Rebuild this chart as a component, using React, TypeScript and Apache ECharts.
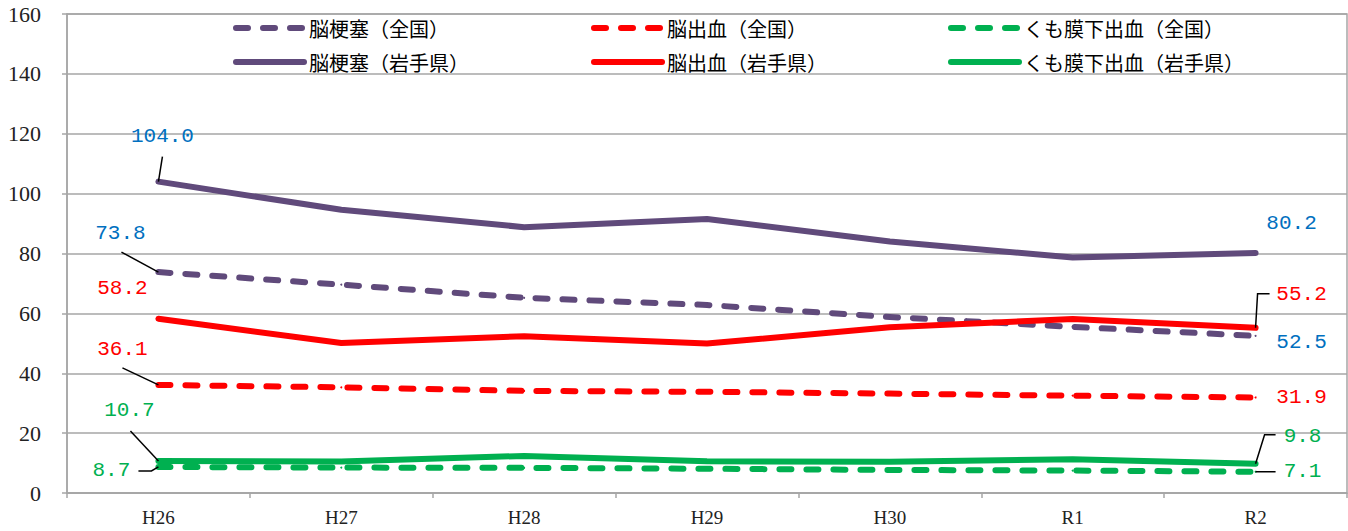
import React, { useEffect, useRef } from "react";
import * as echarts from "echarts";

// Fiscal years (Heisei 26 – Reiwa 2)
const categories = ["H26", "H27", "H28", "H29", "H30", "R1", "R2"];

// Age-adjusted mortality rates per 100,000
const infarctionNational = [73.8, 69.6, 65.2, 62.8, 58.8, 55.5, 52.5];
const hemorrhageNational = [36.1, 35.3, 34.1, 33.8, 33.2, 32.5, 31.9];
const subarachnoidNational = [8.7, 8.5, 8.4, 8.1, 7.7, 7.5, 7.1];
const infarctionIwate = [104.0, 94.6, 88.8, 91.5, 84.0, 78.7, 80.2];
const hemorrhageIwate = [58.2, 50.1, 52.4, 49.9, 55.4, 58.1, 55.2];
const subarachnoidIwate = [10.7, 10.5, 12.4, 10.6, 10.4, 11.3, 9.8];

const seriesNames = [
  "脳梗塞（全国）",
  "脳出血（全国）",
  "くも膜下出血（全国）",
  "脳梗塞（岩手県）",
  "脳出血（岩手県）",
  "くも膜下出血（岩手県）",
];

const PURPLE = "#604A7B";
const RED = "#FF0000";
const GREEN = "#00B050";
const BLUE_TEXT = "#0070C0";
const GRID_GRAY = "#A6A6A6";

type Offset = { dx: number; dy: number; guide?: number[][] };

// Label placement relative to the data point: [first, last].
// guide: leader polyline, from the label end to the point.
const labelOffsets: Offset[][] = [
  [
    { dx: -38, dy: -39, guide: [[-37, -20], [0, 0]] },
    { dx: 46, dy: 7 },
  ],
  [
    { dx: -36, dy: -35, guide: [[-36, -17], [0, 0]] },
    { dx: 46, dy: 0 },
  ],
  [
    { dx: -47, dy: 4, guide: [[-20, 4], [-7, 4], [0, 0]] },
    { dx: 47, dy: 0, guide: [[20, 0], [0, 0]] },
  ],
  [
    { dx: 4, dy: -45, guide: [[4, -25], [0, 0]] },
    { dx: 36, dy: -29 },
  ],
  [
    { dx: -36, dy: -30 },
    { dx: 46, dy: -33, guide: [[14, -34], [2, -34], [0, 0]] },
  ],
  [
    { dx: -29, dy: -50, guide: [[-28, -30], [0, 0]] },
    { dx: 47, dy: -27, guide: [[20, -29], [9, -29], [0, 0]] },
  ],
];

const legendLeft = [233, 591, 948];
const legendTop = [18, 52];

const allValues = [
  infarctionNational,
  hemorrhageNational,
  subarachnoidNational,
  infarctionIwate,
  hemorrhageIwate,
  subarachnoidIwate,
];

function buildSeries(
  idx: number,
  values: number[],
  color: string,
  textColor: string,
  dashed: boolean
) {
  const offsets = labelOffsets[idx];
  const data = values.map((v, i) =>
    i === 0 || i === values.length - 1 ? { value: v, label: { show: true } } : v
  );
  return {
    name: seriesNames[idx],
    type: "line",
    data,
    symbol: "circle",
    symbolSize: 2,
    showSymbol: true,
    itemStyle: { color },
    lineStyle: {
      color,
      width: 6,
      type: dashed ? [12, 15] : "solid",
      cap: "round",
      join: "round",
    },
    label: {
      show: false,
      formatter: (p: any) => Number(p.value).toFixed(1),
      color: textColor,
      fontFamily: "Liberation Mono",
      fontSize: 21,
    },
    labelLayout: (params: any) => {
      const last = params.dataIndex === values.length - 1;
      const o = offsets[last ? 1 : 0];
      const px = params.rect.x + params.rect.width / 2;
      const py = params.rect.y + params.rect.height / 2;
      return {
        x: px + o.dx,
        y: py + o.dy,
        align: "center",
        verticalAlign: "middle",
      };
    },
    emphasis: { disabled: true },
    z: dashed ? 2 : 3,
  };
}

export default function App() {
  const ref = useRef<HTMLDivElement>(null);

  useEffect(() => {
    if (!ref.current) return;
    const chart = echarts.init(ref.current, undefined, { renderer: "svg" });

    const option: any = {
      animation: false,
      backgroundColor: "#fff",
      grid: {
        left: 67,
        right: 1,
        top: 14,
        bottom: 38,
        show: true,
        borderColor: GRID_GRAY,
        borderWidth: 1.5,
      },
      legend: seriesNames.map((name, i) => ({
        data: [name],
        left: legendLeft[i % 3],
        top: legendTop[Math.floor(i / 3)],
        padding: 0,
        itemWidth: 68,
        itemHeight: 6,
        selectedMode: false,
        itemStyle: { opacity: 0 },
        lineStyle: { width: 6, cap: "round" },
        textStyle: {
          fontFamily: "Noto Sans CJK JP",
          fontSize: 20,
          color: "#000",
        },
      })),
      xAxis: {
        type: "category",
        data: categories,
        boundaryGap: true,
        axisLine: { lineStyle: { color: GRID_GRAY, width: 1.5 } },
        axisTick: {
          show: true,
          alignWithLabel: false,
          length: 5,
          lineStyle: { color: GRID_GRAY, width: 1.5 },
        },
        axisLabel: {
          margin: 15,
          color: "#222",
          fontFamily: "Liberation Serif",
          fontSize: 19,
        },
      },
      yAxis: {
        type: "value",
        min: 0,
        max: 160,
        interval: 20,
        axisLine: { show: true, lineStyle: { color: GRID_GRAY, width: 1.5 } },
        axisTick: {
          show: true,
          length: 5,
          lineStyle: { color: GRID_GRAY, width: 1.5 },
        },
        splitLine: { lineStyle: { color: GRID_GRAY, width: 1.5 } },
        axisLabel: {
          margin: 26,
          color: "#222",
          fontFamily: "Liberation Serif",
          fontSize: 22,
        },
      },
      series: [
        buildSeries(0, infarctionNational, PURPLE, BLUE_TEXT, true),
        buildSeries(1, hemorrhageNational, RED, RED, true),
        buildSeries(2, subarachnoidNational, GREEN, GREEN, true),
        buildSeries(3, infarctionIwate, PURPLE, BLUE_TEXT, false),
        buildSeries(4, hemorrhageIwate, RED, RED, false),
        buildSeries(5, subarachnoidIwate, GREEN, GREEN, false),
      ],
    };

    chart.setOption(option);

    // Leader lines joining the end labels to their points
    const leaders: any[] = [];
    allValues.forEach((values, s) => {
      [0, values.length - 1].forEach((di, k) => {
        const o = labelOffsets[s][k];
        if (!o.guide) return;
        const [px, py] = chart.convertToPixel({ gridIndex: 0 }, [
          di,
          values[di],
        ]) as number[];
        leaders.push({
          type: "polyline",
          silent: true,
          z: 100,
          shape: { points: o.guide.map(([gx, gy]) => [px + gx, py + gy]) },
          style: { stroke: "#000", lineWidth: 1.5, fill: null },
        });
      });
    });
    chart.setOption({ graphic: leaders });

    return () => chart.dispose();
  }, []);

  return (
    <div
      ref={ref}
      style={{
        position: "fixed",
        left: 0,
        top: 0,
        width: 1348,
        height: 531,
        background: "#fff",
      }}
    />
  );
}
